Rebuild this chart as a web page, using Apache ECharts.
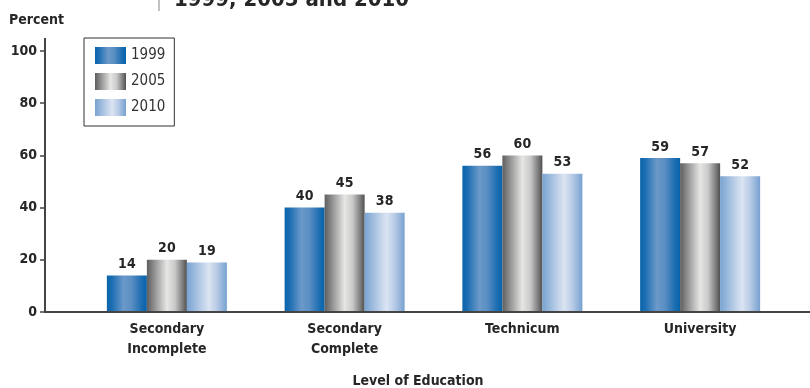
<!DOCTYPE html>
<html>
<head>
<meta charset="utf-8">
<script src="https://cdn.jsdelivr.net/npm/echarts@6/dist/echarts.min.js"></script>
<style>html,body{margin:0;padding:0;background:#fff}#c{width:810px;height:388px}</style>
</head>
<body>
<div id="c"></div>
<script>
const categories = ['Secondary\nIncomplete', 'Secondary\nComplete', 'Technicum', 'University'];
const seriesNames = ['1999', '2005', '2010'];
const values1999 = [14, 40, 56, 59];
const values2005 = [20, 45, 60, 57];
const values2010 = [19, 38, 53, 52];
const yTicks = [0, 20, 40, 60, 80, 100];

const FONT = '"DejaVu Sans Condensed", "DejaVu Sans", sans-serif';
const TXT = '#262626';

function grad(stops) {
  return { type: 'linear', x: 0, y: 0, x2: 1, y2: 0,
    colorStops: stops.map(s => ({ offset: s[0], color: s[1] })) };
}
const colors = [
  grad([[0, '#0a64ab'], [0.12, '#1a6db2'], [0.42, '#6b99c9'], [0.62, '#5a8ec3'], [0.88, '#1a6cb1'], [1, '#0763aa']]),
  grad([[0, '#5e5e5e'], [0.25, '#a2a2a2'], [0.5, '#e6e6e4'], [0.7, '#c9c9c9'], [0.9, '#7a7a7a'], [1, '#505050']]),
  grad([[0, '#78a3d1'], [0.35, '#b9cde7'], [0.55, '#dbe4f2'], [0.75, '#b8cbe6'], [1, '#76a1d0']])
];
const data = [values1999, values2005, values2010];

const chart = echarts.init(document.getElementById('c'), null, { renderer: 'canvas' });
chart.setOption({
  animation: false,
  backgroundColor: '#fff',
  textStyle: { fontFamily: FONT },
  grid: { left: 78, right: 21, top: 51, bottom: 76 },
  legend: {
    data: seriesNames,
    icon: 'rect',
    orient: 'vertical',
    left: 84, top: 38,
    padding: [9, 9, 10, 11],
    itemWidth: 31, itemHeight: 17, itemGap: 9,
    borderColor: '#333', borderWidth: 1,
    textStyle: { fontFamily: FONT, fontSize: 15, color: '#333' }
  },
  xAxis: {
    type: 'category',
    data: categories,
    axisLine: { show: false },
    axisTick: { show: false },
    axisLabel: { fontFamily: FONT, fontWeight: 'bold', fontSize: 14, color: TXT, lineHeight: 20, margin: 7 }
  },
  yAxis: {
    type: 'value',
    min: yTicks[0], max: yTicks[yTicks.length - 1], interval: 20,
    offset: 33,
    splitLine: { show: false },
    axisLine: { show: false },
    axisTick: { show: true, inside: false, length: 5, lineStyle: { color: '#444', width: 1.5 } },
    axisLabel: { fontFamily: FONT, fontWeight: 'bold', fontSize: 14, color: TXT, margin: 8 }
  },
  series: seriesNames.map((n, i) => ({
    name: n,
    type: 'bar',
    data: data[i],
    barWidth: 40,
    barGap: '0%',
    itemStyle: { color: colors[i] },
    label: { show: true, position: 'top', distance: 4, fontFamily: FONT, fontWeight: 'bold', fontSize: 14, color: TXT }
  })),
  graphic: [
    { type: 'line', shape: { x1: 45, y1: 38, x2: 45, y2: 312 }, style: { stroke: '#444', lineWidth: 2 }, z: 10 },
    { type: 'line', shape: { x1: 44, y1: 312, x2: 810, y2: 312 }, style: { stroke: '#444', lineWidth: 2 }, z: 10 },
    { type: 'line', shape: { x1: 159, y1: 0, x2: 159, y2: 11 }, style: { stroke: '#999', lineWidth: 1.2 } },
    { type: 'text', left: 9, top: 13, style: { text: 'Percent', font: 'bold 14px ' + FONT, fill: TXT } },
    { type: 'text', x: 174, y: -11, style: { text: '1999, 2005 and 2010', font: 'bold 22px ' + FONT, fill: TXT } },
    { type: 'text', x: 418, y: 381, style: { text: 'Level of Education', font: 'bold 14px ' + FONT, fill: TXT, textAlign: 'center', textVerticalAlign: 'middle' } }
  ]
});
</script>
</body>
</html>
